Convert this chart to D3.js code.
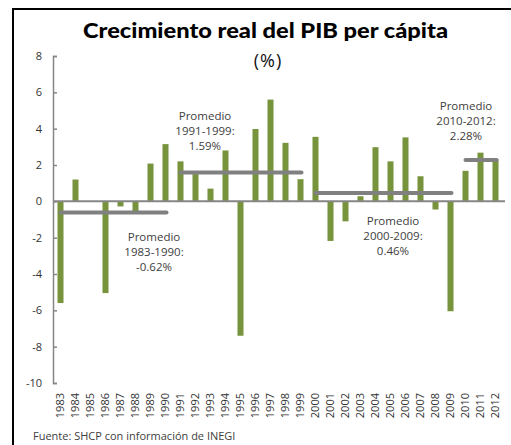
<!DOCTYPE html>
<html>
<head>
<meta charset="utf-8">
<script src="https://cdn.jsdelivr.net/npm/d3@7"></script>
<style>
body { margin: 0; background: #fff; }
svg { display: block; }
</style>
</head>
<body>
<svg width="511" height="445"></svg>
<script>
// datos
const years = d3.range(1983, 2013).map(String);
const growth = [-5.6, 1.2, 0, -5.05, -0.28, -0.55, 2.08, 3.15, 2.2, 1.5,
	0.7, 2.8, -7.4, 3.98, 5.6, 3.22, 1.22, 3.55, -2.18, -1.1,
	0.28, 2.98, 2.2, 3.52, 1.38, -0.45, -6.05, 1.68, 2.68, 2.32];
const avgPeriods = ["1983-1990", "1991-1999", "2000-2009", "2010-2012"];
const avgStart = ["1983", "1991", "2000", "2010"];
const avgEnd = ["1990", "1999", "2009", "2012"];
const avgValues = [-0.62, 1.59, 0.46, 2.28];
const yTicks = [-10, -8, -6, -4, -2, 0, 2, 4, 6, 8];

const svg = d3.select("svg");
const font = "'Open Sans', sans-serif";

// marco
svg.append("rect")
	.attr("x", 13).attr("y", 9)
	.attr("width", 520).attr("height", 460)
	.attr("fill", "none").attr("stroke", "#000").attr("stroke-width", 2);

svg.append("text")
	.attr("x", 83).attr("y", 38)
	.attr("textLength", 365)
	.attr("lengthAdjust", "spacingAndGlyphs")
	.style("font-family", "Lato, sans-serif")
	.style("font-weight", "900")
	.style("font-size", "21px")
	.attr("fill", "#000")
	.text("Crecimiento real del PIB per cápita");

svg.append("text")
	.attr("x", 268).attr("y", 67)
	.attr("text-anchor", "middle")
	.style("font-family", font)
	.style("font-size", "18px")
	.style("letter-spacing", "1px")
	.attr("fill", "#111")
	.text("(%)");

const x = d3.scaleBand().domain(years).range([53, 503])
	.paddingInner(0.6).paddingOuter(0.3);
const y = d3.scaleLinear().domain([-10, 8]).range([383, 56]);

// eje y
const yAxis = svg.append("g")
	.attr("transform", "translate(53,0)")
	.call(d3.axisRight(y).tickValues(yTicks).tickSize(4).tickFormat(""));
yAxis.select(".domain").attr("stroke", "#868686").attr("stroke-width", 1.5);
yAxis.selectAll(".tick line").attr("stroke", "#868686").attr("stroke-width", 1.5);

svg.append("g").selectAll("text")
	.data(yTicks).enter().append("text")
	.attr("x", 42).attr("y", d => y(d))
	.attr("dy", "0.35em")
	.attr("text-anchor", "end")
	.style("font-family", font)
	.style("font-size", "11px")
	.attr("fill", "#333")
	.text(d => d);

// barras
svg.append("g").selectAll("rect")
	.data(growth).enter().append("rect")
	.attr("x", (d, i) => x(years[i]))
	.attr("width", x.bandwidth())
	.attr("y", d => y(Math.max(0, d)))
	.attr("height", d => Math.abs(y(d) - y(0)))
	.attr("fill", "#77933c");

// linea de cero
svg.append("line")
	.attr("x1", 53).attr("x2", 505)
	.attr("y1", y(0)).attr("y2", y(0))
	.attr("stroke", "#868686").attr("stroke-width", 2);

// promedios
const half = x.bandwidth() / 2;
svg.append("g").selectAll("line")
	.data(avgValues).enter().append("line")
	.attr("x1", (d, i) => x(avgStart[i]) + half)
	.attr("x2", (d, i) => x(avgEnd[i]) + half + 1)
	.attr("y1", d => y(d)).attr("y2", d => y(d))
	.attr("stroke", "#808080").attr("stroke-width", 4)
	.attr("stroke-linecap", "round");

const notePos = [[154, 237], [205, 116], [393, 221], [466, 106]];
notePos.forEach(function(p, i) {
	const t = svg.append("text")
		.attr("text-anchor", "middle")
		.style("font-family", font)
		.style("font-size", "11.5px")
		.attr("fill", "#404040");
	const lines = ["Promedio", avgPeriods[i] + ":", avgValues[i].toFixed(2) + "%"];
	lines.forEach(function(l, j) {
		t.append("tspan").attr("x", p[0]).attr("y", p[1] + j * 15)
			.attr("dy", "0.35em").text(l);
	});
});

// etiquetas de años
svg.append("g").selectAll("text")
	.data(years).enter().append("text")
	.attr("transform", d => "translate(" + (x(d) + half) + ",393) rotate(-90)")
	.attr("dy", "0.35em")
	.attr("text-anchor", "end")
	.style("font-family", font)
	.style("font-size", "11px")
	.attr("fill", "#333")
	.text(d => d);

svg.append("text")
	.attr("x", 33).attr("y", 440)
	.style("font-family", font)
	.style("font-size", "11px")
	.attr("fill", "#404040")
	.text("Fuente: SHCP con información de INEGI");
</script>
</body>
</html>
